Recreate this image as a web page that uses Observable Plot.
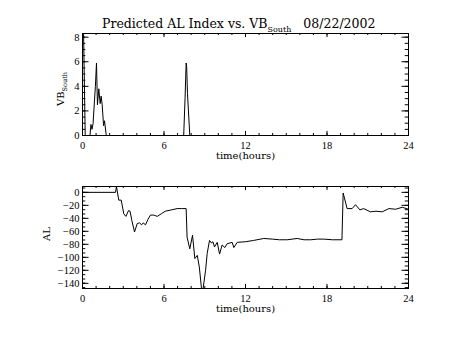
<!DOCTYPE html>
<html><head><meta charset="utf-8">
<script src="https://cdn.jsdelivr.net/npm/d3@7"></script>
<script src="https://cdn.jsdelivr.net/npm/@observablehq/plot@0.6"></script>
<style>
body{margin:0;background:#fff;}
#wrap{position:relative;width:453px;height:340px;background:#fff;}
#wrap svg{display:block;}
</style></head>
<body><div id="wrap"></div>
<script>
// ---- data ----
const hoursTicks = [0, 6, 12, 18, 24];
const hoursMinor = d3.range(0, 25, 1);
const vbTicks = [0, 2, 4, 6, 8];
const vbMinor = d3.range(0, 8.01, 0.5);
const alTicks = [0, -20, -40, -60, -80, -100, -120, -140];
const alMinor = d3.range(-140, 9, 20/3).concat(d3.range(-140, -148, -20/3));

const vbTime  = [0, 0.08, 0.2, 0.55, 0.62, 0.7, 0.78, 0.88, 0.95, 1.03, 1.1, 1.2, 1.3, 1.37, 1.45, 1.55, 1.62, 1.75, 7.45, 7.55, 7.63, 7.67, 7.73, 7.8, 7.9, 24];
const vbValue = [8.3, 8.3, 0, 0, 0.9, 0.5, 1.0, 2.8, 4.0, 5.9, 2.5, 3.8, 2.6, 3.2, 2.5, 0.8, 1.2, 0, 0, 3.0, 5.9, 5.6, 3.4, 2.0, 0, 0];

const alTime  = [0, 2.43, 2.5, 2.67, 2.85, 3.04, 3.2, 3.39, 3.5, 3.63, 3.83, 4.03, 4.2, 4.35, 4.47, 4.64, 4.81, 5.0, 5.25, 5.5, 5.8, 6.1, 6.55, 6.97, 7.3, 7.63, 7.7, 7.9, 8.1, 8.27, 8.45, 8.6, 8.76, 8.88, 9.06, 9.18, 9.35, 9.5, 9.6, 9.72, 9.92, 10.09, 10.28, 10.48, 10.65, 11.02, 11.14, 11.39, 12.0, 12.6, 13.35, 13.97, 14.5, 15.07, 15.8, 16.3, 16.8, 17.3, 17.77, 18.4, 19.1, 19.19, 19.48, 19.85, 20.1, 20.42, 20.7, 21.2, 21.6, 22.06, 22.56, 23.05, 23.54, 24];
const alValue = [0, 0, 9, -12, -12, -33, -37, -28, -29, -43, -61, -48, -47, -50, -47, -50, -42, -35, -35, -37, -33, -29, -27, -25, -25, -25, -69, -87, -66, -102, -97, -115, -148, -148, -120, -94, -74, -78, -76, -84, -77, -95, -81, -85, -79, -77, -85, -77, -76, -74, -71, -72, -73, -73, -71, -73, -73, -72, -72, -73, -73, -1, -25, -25, -19, -27, -25, -30, -29, -30, -25, -26, -23, -26];

const vb = vbTime.map((t, i) => ({t, v: vbValue[i]}));
const al = alTime.map((t, i) => ({t, v: alValue[i]}));

// ---- layout ----
const W = 453, mL = 82, mR = 45;
const pw = W - mL - mR, ph = 102;
const tickFont = "Liberation Serif";
const labelFont = "DejaVu Serif";

function tickRules(xMaj, xMin, yMaj, yMin) {
  const xl = 0.02 * ph, yl = 0.02 * pw;
  const s = {stroke: "#000", strokeWidth: 1};
  return [
    Plot.ruleX(xMaj, {...s, insetTop: ph - 2 * xl}),
    Plot.ruleX(xMaj, {...s, insetBottom: ph - 2 * xl}),
    Plot.ruleX(xMin, {...s, insetTop: ph - xl}),
    Plot.ruleX(xMin, {...s, insetBottom: ph - xl}),
    Plot.ruleY(yMaj, {...s, insetRight: pw - yl}),
    Plot.ruleY(yMaj, {...s, insetLeft: pw - yl}),
    Plot.ruleY(yMin, {...s, insetRight: pw - yl / 2}),
    Plot.ruleY(yMin, {...s, insetLeft: pw - yl / 2})
  ];
}

function panel({height, mT, mB, yDomain, yTicks, yMinor, data}) {
  return Plot.plot({
    width: W, height, marginLeft: mL, marginRight: mR, marginTop: mT, marginBottom: mB,
    style: {fontFamily: tickFont, fontSize: "10.5px", color: "#000", background: "#fff", overflow: "visible"},
    x: {domain: [0, 24]},
    y: {domain: yDomain},
    marks: [
      Plot.axisX({ticks: hoursTicks, tickSize: 0, tickPadding: 6, label: null, tickFormat: d => String(d), fontFamily: tickFont, fontSize: 10.5}),
      Plot.axisY({ticks: yTicks, tickSize: 0, tickPadding: 3, label: null, fontFamily: tickFont, fontSize: 10.5}),
      ...tickRules(hoursTicks, hoursMinor, yTicks, yMinor),
      Plot.line(data, {x: "t", y: "v", stroke: "#000", strokeWidth: 1}),
      Plot.frame({stroke: "#000", strokeWidth: 1}),
      Plot.text(["time(hours)"], {text: d => d, frameAnchor: "bottom", dy: 23, fontFamily: labelFont, fontSize: 10, fill: "#000"})
    ]
  });
}

const wrap = document.getElementById("wrap");

const topSvg = panel({height: 170, mT: 33, mB: 35, yDomain: [0, 8.3], yTicks: vbTicks, yMinor: vbMinor, data: vb});
const botSvg = panel({height: 170, mT: 16, mB: 52, yDomain: [-148, 9], yTicks: alTicks, yMinor: alMinor, data: al});
wrap.appendChild(topSvg);
wrap.appendChild(botSvg);

// title
const t = d3.select(topSvg).append("text")
  .attr("x", 102).attr("y", 28).attr("text-anchor", "start")
  .attr("font-family", labelFont).attr("font-size", 12.5).attr("fill", "#000");
t.append("tspan").text("Predicted AL Index vs. VB");
t.append("tspan").attr("font-size", 8).attr("dy", 4).text("South");
t.append("tspan").attr("dy", -4).attr("dx", 12).text("08/22/2002");

// y labels
const yl1 = d3.select(topSvg).append("text")
  .attr("transform", "translate(64,89) rotate(-90)")
  .attr("text-anchor", "middle")
  .attr("font-family", labelFont).attr("font-size", 10).attr("fill", "#000");
yl1.append("tspan").text("VB");
yl1.append("tspan").attr("font-size", 6.5).attr("dy", 3).text("South");

d3.select(botSvg).append("text")
  .attr("transform", "translate(50,64) rotate(-90)")
  .attr("text-anchor", "middle")
  .attr("font-family", labelFont).attr("font-size", 10).attr("fill", "#000")
  .text("AL");
</script>
</body></html>
